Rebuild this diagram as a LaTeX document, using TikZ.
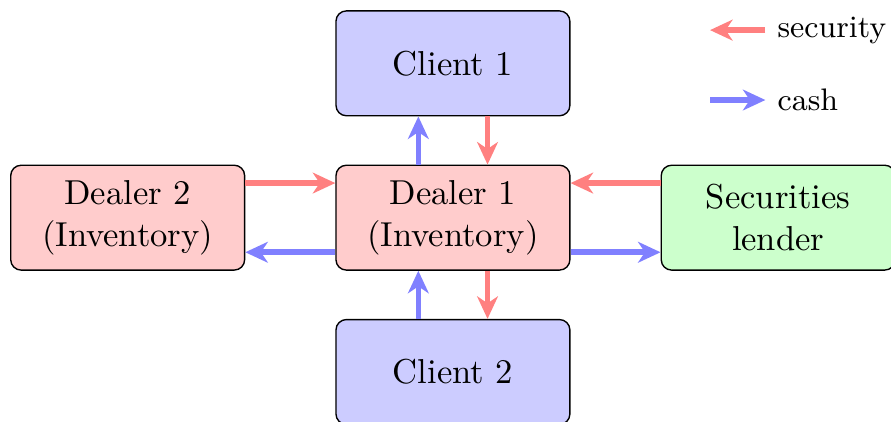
\documentclass[tikz,border=0pt]{standalone}
\usepackage{amsmath}
\usepackage{tikz}
\usetikzlibrary{positioning,arrows.meta}

\begin{document}
\begin{tikzpicture}[
      every node/.append style={align=center},
      party/.style={draw=black,rounded corners=3pt,minimum width=67.6pt,minimum height=30.3pt},
      sec/.style={draw=red!50,ultra thick,-{Stealth[length=6.5pt,width=6pt,inset=2pt]}},
      cash/.style={draw=blue!50,ultra thick,-{Stealth[length=6.5pt,width=6pt,inset=2pt]}},
      legend/.style={anchor=west,font=\small},
      node distance=13.9pt and 26pt]
    \useasboundingbox (-130.9pt,-58.8pt) rectangle (126.6pt,62.9pt);
    \node (dealer1) [party,fill=red!20] {Dealer 1\\(Inventory)};
    \node (client1) [party,fill=blue!20,above=of dealer1] {Client 1};
    \node (client2) [party,fill=blue!20,below=of dealer1] {Client 2};
    \node (dealer2) [party,fill=red!20,left=of dealer1] {Dealer 2\\(Inventory)};
    \node (lender) [party,fill=green!20,right=of dealer1] {Securities\\lender};
    % flows between the parties
    \draw[sec] ([yshift=10pt]dealer2.east) -- ([yshift=10pt]dealer1.west);
    \draw[cash] ([yshift=-10pt]dealer1.west) -- ([yshift=-10pt]dealer2.east);
    \draw[sec] ([yshift=10pt]lender.west) -- ([yshift=10pt]dealer1.east);
    \draw[cash] ([yshift=-10pt]dealer1.east) -- ([yshift=-10pt]lender.west);
    \draw[cash] ([xshift=-10pt]dealer1.north) -- ([xshift=-10pt]client1.south);
    \draw[sec] ([xshift=10pt]client1.south) -- ([xshift=10pt]dealer1.north);
    \draw[cash] ([xshift=-10pt]client2.north) -- ([xshift=-10pt]dealer1.south);
    \draw[sec] ([xshift=10pt]dealer1.south) -- ([xshift=10pt]client2.north);
    % legend
    \node (seclab) [legend] at (90.3pt,54.2pt) {security};
    \node (cashlab) [legend] at (90.3pt,34pt) {cash};
    \coordinate (secend) at ([xshift=-16pt]seclab.west);
    \coordinate (cashstart) at ([xshift=-16pt]cashlab.west);
    \draw[sec] (seclab.west) -- (secend);
    \draw[cash] (cashstart) -- (cashlab.west);
\end{tikzpicture}
\end{document}
